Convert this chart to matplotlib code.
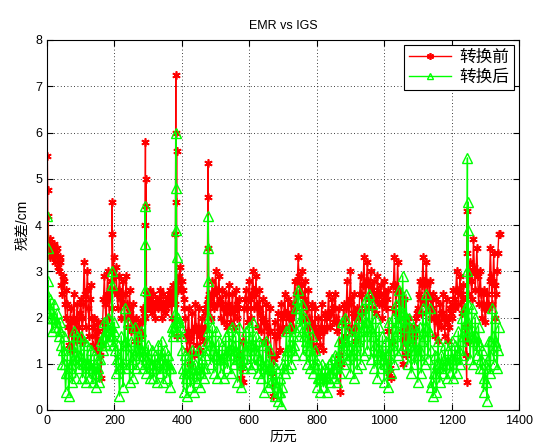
import numpy as np
import matplotlib
matplotlib.use("Agg")
import matplotlib.pyplot as plt

plt.rcParams['font.family'] = ['Liberation Sans', 'Noto Sans CJK SC']

title = "EMR vs IGS"
xlabel = "历元"
ylabel = "残差/cm"
legend_labels = ["转换前", "转换后"]
xticks = [0, 200, 400, 600, 800, 1000, 1200, 1400]
yticks = [0, 1, 2, 3, 4, 5, 6, 7, 8]

# base epochs (every 5 epochs) and in-between epochs
epochs = np.arange(0, 1341, 5)
epochs_mid = np.arange(2.5, 1340, 5)

before_base = [
    3.7, 3.6, 3.7, 3.4, 3.6, 3.3, 3.5, 3.0, 3.2, 2.5, 2.8, 2.0, 2.3, 1.4, 2.2, 1.3, 2.5, 1.5, 2.3, 1.6,
    2.4, 1.5, 3.2, 1.8, 3.0, 1.6, 2.7, 1.4, 2.0, 1.3, 1.9, 1.5, 0.7, 1.9, 2.9, 1.8, 3.0, 2.0, 2.8, 3.0,
    2.6, 3.1, 2.2, 2.9, 2.0, 2.8, 2.0, 2.9, 1.8, 2.6, 1.7, 2.3, 1.5, 2.0, 1.4, 1.9, 1.6, 2.2, 2.0, 2.5,
    2.2, 2.6, 2.1, 2.5, 2.0, 2.4, 2.2, 2.6, 2.0, 2.5, 2.1, 2.4, 2.3, 2.6, 2.0, 2.7, 2.3, 1.6, 2.6, 3.1,
    2.8, 2.4, 2.0, 1.3, 2.2, 1.0, 2.1, 1.2, 2.3, 1.4, 2.2, 1.3, 2.0, 1.5, 2.1, 2.3, 2.5, 2.0, 2.8, 2.2,
    3.0, 2.3, 2.9, 2.0, 2.6, 1.9, 2.5, 1.8, 2.7, 1.9, 2.5, 1.8, 2.6, 2.0, 2.4, 0.7, 0.6, 2.2, 2.6, 1.9,
    2.8, 2.0, 3.0, 2.2, 2.9, 1.8, 2.6, 1.7, 2.4, 1.5, 2.3, 1.3, 2.2, 1.2, 0.3, 1.9, 1.2, 2.1, 1.3, 2.3,
    1.7, 2.5, 1.8, 2.4, 1.7, 2.3, 1.8, 2.8, 2.2, 3.3, 2.5, 3.0, 2.0, 2.8, 1.8, 2.6, 1.5, 2.3, 1.4, 2.2,
    1.3, 2.0, 1.4, 2.3, 1.3, 2.1, 1.8, 2.5, 1.8, 2.4, 1.9, 2.5, 1.7, 2.2, 0.4, 1.5, 2.3, 1.6, 2.8, 1.8,
    3.0, 1.7, 2.5, 1.5, 2.2, 2.0, 2.9, 2.1, 3.3, 2.2, 3.2, 2.4, 3.0, 2.2, 2.8, 2.1, 2.9, 2.3, 2.7, 2.0,
    2.8, 2.2, 2.6, 0.8, 0.7, 2.2, 3.3, 2.1, 3.2, 2.0, 2.5, 1.0, 2.4, 1.2, 2.0, 1.5, 1.8, 1.5, 1.7, 2.0,
    2.2, 2.8, 2.1, 3.3, 2.3, 3.2, 2.2, 2.8, 2.0, 2.5, 1.6, 2.4, 1.5, 2.3, 1.8, 2.5, 1.6, 2.4, 1.5, 2.2,
    2.0, 2.6, 2.2, 3.0, 2.3, 2.9, 2.1, 2.7, 1.8, 0.6, 2.5, 3.2, 2.4, 3.7, 2.6, 3.5, 2.3, 3.0, 2.0, 2.6,
    1.9, 2.5, 2.2, 3.5, 2.3, 3.4, 2.0, 3.0, 3.8,
]

before_mid = [
    3.5, 3.3, 3.5, 3.5, 3.2, 3.4, 3.1, 3.3, 2.7, 2.9, 2.3, 2.6, 1.8, 1.9, 1.7, 2.0, 1.9, 2.0, 1.8, 2.1,
    2.0, 2.3, 2.5, 2.6, 2.2, 2.4, 2.0, 1.8, 1.6, 1.7, 1.7, 1.2, 1.4, 2.4, 2.3, 2.5, 2.4, 2.6, 2.2, 3.3,
    2.9, 2.5, 2.6, 2.4, 2.5, 2.3, 2.5, 2.3, 2.2, 2.1, 2.0, 1.9, 1.8, 1.7, 1.6, 1.7, 1.9, 2.1, 2.2, 2.3,
    2.4, 2.3, 2.3, 2.2, 2.3, 2.3, 2.4, 2.3, 2.2, 2.3, 2.2, 2.4, 2.5, 2.3, 2.4, 2.5, 2.7, 2.8, 2.9, 2.6,
    2.6, 2.2, 1.6, 1.7, 1.5, 1.6, 1.7, 1.8, 1.8, 1.7, 1.6, 1.8, 1.7, 1.8, 2.2, 2.4, 2.3, 2.4, 2.5, 2.6,
    2.6, 2.6, 2.4, 2.3, 2.2, 2.2, 2.1, 2.3, 2.2, 2.2, 2.1, 2.2, 2.3, 2.2, 1.2, 0.9, 1.5, 2.4, 2.2, 2.4,
    2.4, 2.5, 2.6, 2.5, 2.3, 2.2, 2.1, 2.0, 1.9, 1.9, 1.8, 1.7, 1.7, 0.8, 1.1, 1.6, 1.6, 1.7, 1.8, 2.0,
    2.1, 2.1, 2.1, 2.0, 2.0, 2.1, 2.3, 2.5, 2.8, 2.9, 2.7, 2.5, 2.4, 2.3, 2.2, 2.0, 1.9, 1.8, 1.8, 1.7,
    1.6, 1.7, 1.8, 1.7, 1.7, 2.0, 2.1, 2.1, 2.1, 2.2, 2.2, 2.0, 1.9, 1.2, 1.0, 1.9, 2.0, 2.2, 2.3, 2.4,
    2.3, 2.1, 2.0, 1.8, 2.1, 2.5, 2.5, 2.7, 2.7, 2.8, 2.8, 2.7, 2.6, 2.5, 2.4, 2.5, 2.6, 2.5, 2.3, 2.4,
    2.5, 2.4, 1.7, 0.9, 1.5, 2.7, 2.7, 2.6, 2.6, 2.3, 1.7, 1.7, 1.8, 1.6, 1.7, 1.6, 1.7, 1.6, 1.8, 2.1,
    2.5, 2.4, 2.7, 2.8, 2.8, 2.7, 2.5, 2.4, 2.2, 2.0, 2.0, 1.9, 1.9, 2.1, 2.1, 2.0, 2.0, 1.9, 1.8, 2.1,
    2.3, 2.4, 2.6, 2.6, 2.6, 2.5, 2.4, 2.2, 1.2, 1.5, 2.9, 2.8, 3.0, 3.1, 3.0, 2.9, 2.6, 2.5, 2.3, 2.2,
    2.2, 2.3, 2.8, 2.9, 2.8, 2.7, 2.5, 3.4,
]

after_base = [
    2.5, 2.2, 2.4, 1.7, 2.3, 1.8, 2.1, 1.6, 1.9, 1.0, 1.6, 0.4, 1.2, 0.3, 1.4, 0.6, 1.7, 0.7, 1.6, 0.9,
    1.6, 0.7, 1.5, 0.6, 1.4, 0.7, 1.3, 0.6, 1.2, 0.5, 1.1, 0.6, 1.5, 1.3, 1.9, 1.4, 2.0, 1.5, 1.8, 1.4,
    1.9, 0.8, 1.4, 0.3, 1.6, 0.5, 2.2, 0.9, 1.9, 0.6, 1.5, 0.7, 1.8, 0.9, 1.6, 1.0, 1.7, 0.9, 1.3, 0.8,
    1.4, 0.7, 1.3, 0.7, 1.2, 0.6, 1.4, 0.8, 1.5, 0.6, 1.3, 0.7, 1.2, 0.5, 1.8, 1.6, 2.1, 1.7, 2.0, 1.8,
    1.3, 0.4, 1.2, 0.3, 1.1, 0.5, 1.3, 0.4, 1.0, 0.6, 1.3, 0.5, 1.1, 0.7, 1.2, 1.5, 2.0, 1.0, 1.8, 0.8,
    1.7, 0.7, 1.5, 0.8, 1.4, 0.7, 1.6, 0.9, 1.7, 0.8, 1.8, 1.0, 1.6, 0.6, 1.8, 0.5, 1.4, 0.9, 1.7, 1.0,
    1.8, 0.9, 1.9, 1.0, 1.6, 0.8, 1.5, 0.7, 1.4, 0.4, 1.5, 0.5, 1.3, 0.6, 1.0, 0.3, 0.9, 0.2, 0.7, 0.1,
    1.0, 0.8, 1.7, 0.9, 1.8, 1.0, 1.6, 1.2, 2.2, 2.6, 1.8, 2.3, 1.2, 2.0, 1.0, 1.8, 0.9, 1.6, 0.8, 1.3,
    0.5, 1.0, 0.4, 1.0, 0.5, 0.9, 0.4, 1.0, 0.6, 1.1, 0.7, 1.2, 0.6, 1.5, 0.8, 1.9, 1.0, 2.0, 1.1, 1.7,
    0.8, 1.6, 0.7, 1.8, 0.9, 2.0, 1.0, 2.2, 1.2, 2.4, 1.3, 2.5, 1.1, 2.3, 0.9, 2.0, 0.7, 1.8, 0.9, 1.6,
    0.6, 1.5, 0.5, 1.9, 0.8, 2.0, 1.0, 2.3, 1.2, 2.6, 1.3, 2.9, 1.4, 2.5, 1.0, 2.0, 0.8, 1.8, 1.0, 1.7,
    0.6, 1.8, 0.8, 2.2, 1.0, 2.5, 1.1, 2.2, 0.5, 0.3, 1.2, 0.4, 1.5, 0.6, 1.2, 0.8, 1.4, 0.7, 1.3, 0.8,
    1.5, 0.7, 1.4, 0.8, 1.7, 1.0, 2.0, 1.2, 2.2, 1.6, 2.3, 1.1, 2.2, 1.0, 2.0, 1.2, 1.8, 0.9, 1.3, 0.4,
    1.0, 0.2, 1.5, 0.8, 2.2, 1.0, 2.0, 0.9, 1.8,
]

after_mid = [
    2.3, 2.0, 2.0, 2.0, 2.0, 1.9, 1.8, 1.7, 1.4, 1.3, 1.0, 0.8, 0.8, 0.9, 1.0, 1.1, 1.2, 1.1, 1.2, 1.2,
    1.1, 1.0, 1.0, 1.0, 1.0, 0.9, 0.9, 0.9, 0.8, 0.8, 0.9, 1.1, 1.4, 1.6, 1.6, 1.7, 1.7, 1.6, 1.6, 1.7,
    1.3, 1.1, 0.9, 0.9, 1.0, 1.4, 1.5, 1.4, 1.2, 1.0, 1.1, 1.2, 1.3, 1.3, 1.3, 1.3, 1.3, 1.2, 1.1, 1.1,
    1.0, 1.0, 1.0, 0.9, 0.9, 1.0, 1.1, 1.2, 1.1, 1.0, 1.0, 1.0, 0.9, 0.9, 1.7, 1.8, 1.9, 1.9, 1.9, 1.6,
    0.9, 0.8, 0.7, 0.8, 0.8, 0.9, 0.8, 0.7, 0.8, 0.9, 0.9, 0.8, 0.9, 0.9, 1.3, 1.7, 1.5, 1.4, 1.3, 1.2,
    1.2, 1.1, 1.1, 1.1, 1.1, 1.2, 1.2, 1.3, 1.3, 1.3, 1.4, 1.3, 1.1, 1.2, 1.1, 1.0, 1.1, 1.3, 1.3, 1.4,
    1.4, 1.4, 1.4, 1.3, 1.2, 1.1, 1.1, 1.0, 0.9, 0.9, 1.0, 0.9, 0.9, 0.8, 0.6, 0.6, 0.5, 0.4, 0.4, 0.5,
    0.9, 1.2, 1.3, 1.3, 1.4, 1.3, 1.4, 1.7, 2.4, 2.2, 2.0, 1.7, 1.6, 1.5, 1.4, 1.3, 1.2, 1.2, 1.0, 0.9,
    0.7, 0.7, 0.7, 0.7, 0.7, 0.7, 0.7, 0.8, 0.8, 0.9, 0.9, 0.9, 1.0, 1.1, 1.3, 1.4, 1.5, 1.5, 1.4, 1.2,
    1.2, 1.2, 1.3, 1.4, 1.5, 1.6, 1.7, 1.8, 1.8, 1.9, 1.9, 1.8, 1.7, 1.6, 1.4, 1.3, 1.2, 1.3, 1.2, 1.1,
    1.0, 1.0, 1.2, 1.3, 1.4, 1.5, 1.6, 1.7, 1.9, 2.0, 2.1, 2.1, 2.0, 1.8, 1.5, 1.4, 1.3, 1.4, 1.3, 1.2,
    1.2, 1.3, 1.5, 1.6, 1.8, 1.8, 1.7, 1.3, 0.6, 0.8, 0.8, 1.0, 1.0, 0.9, 1.0, 1.1, 1.0, 1.0, 1.0, 1.1,
    1.1, 1.1, 1.1, 1.2, 1.3, 1.5, 1.6, 1.7, 1.9, 1.9, 1.7, 1.6, 1.6, 1.5, 1.6, 1.5, 1.4, 1.1, 0.9, 0.7,
    0.6, 0.9, 1.2, 1.5, 1.6, 1.5, 1.4, 1.3,
]

# isolated spikes (epoch, value)
before_spike_x = [1, 2, 3, 193, 194, 291, 292, 293, 294, 381, 382, 383, 384, 384.5,
                  477, 478, 479, 1246, 1247, 1344]
before_spike_y = [5.5, 4.75, 4.2, 4.5, 3.8, 4.0, 5.8, 5.0, 4.4, 3.8, 7.25, 6.0, 4.5, 5.6,
                  4.6, 5.35, 3.5, 4.3, 3.4, 3.8]

after_spike_x = [1, 2, 3, 193, 194, 290, 291, 292, 382, 383, 384, 384.5,
                 477, 478, 479, 1246, 1247, 1248, 1249]
after_spike_y = [4.2, 3.5, 2.8, 3.0, 2.7, 2.6, 4.4, 3.6, 6.0, 4.8, 3.9, 3.3,
                 2.8, 4.2, 3.5, 3.0, 5.45, 4.5, 3.9]


def merge(base_y, mid_y, sx, sy):
    x = np.concatenate([epochs, epochs_mid, np.asarray(sx, float)])
    y = np.concatenate([np.asarray(base_y, float), np.asarray(mid_y, float),
                        np.asarray(sy, float)])
    order = np.argsort(x, kind="stable")
    return x[order], y[order]


xb, yb = merge(before_base, before_mid, before_spike_x, before_spike_y)
xa, ya = merge(after_base, after_mid, after_spike_x, after_spike_y)

fig = plt.figure(figsize=(5.34, 4.47), dpi=100)
ax = fig.add_axes([47 / 534, 1 - 410 / 447, (519 - 47) / 534, (410 - 40) / 447])

ax.plot(xb, yb, color=(1, 0, 0), lw=1.0, marker=(6, 2, 0), ms=6, mew=1.2,
        label=legend_labels[0])
ax.plot(xa, ya, color=(0, 1, 0), lw=1.0, marker='^', ms=6.5, mew=1.0,
        markerfacecolor='none', label=legend_labels[1])

ax.set_xlim(0, 1400)
ax.set_ylim(0, 8)
ax.set_xticks(xticks)
ax.set_yticks(yticks)
ax.tick_params(direction='in', top=True, right=True, labelsize=9, length=4)
ax.grid(True, linestyle=(0, (1, 3)), color='black', linewidth=0.6)
for s in ax.spines.values():
    s.set_linewidth(0.8)

ax.set_title(title, fontsize=9, pad=8)
ax.set_xlabel(xlabel, fontsize=10, labelpad=2)
ax.set_ylabel(ylabel, fontsize=10, labelpad=4)

leg = ax.legend(loc='upper right', fancybox=False, framealpha=1, edgecolor='black',
                fontsize=12, handlelength=2.5, borderaxespad=0.3, labelspacing=0.25,
                borderpad=0.3, handletextpad=0.5)
leg.get_frame().set_linewidth(0.8)
for h in leg.legend_handles:
    h.set_markersize(5)

fig.savefig("out.png", dpi=100)
